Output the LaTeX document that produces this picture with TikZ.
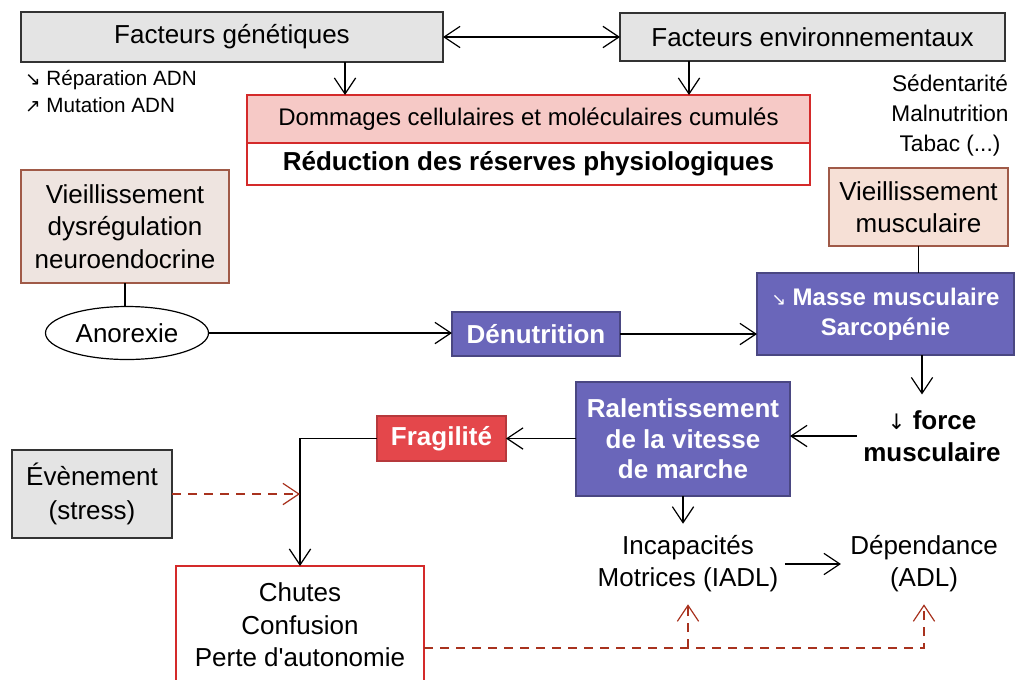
\documentclass[tikz,border=0pt]{standalone}
\usepackage{fontspec}
\setmainfont{Liberation Sans}
\newfontfamily\symf{DejaVu Sans}
\newfontfamily\plainf{Liberation Sans}
\usetikzlibrary{arrows.meta,shapes.geometric}
\definecolor{grayfill}{HTML}{E4E4E4}
\definecolor{pinkfill}{HTML}{F6C9C6}
\definecolor{peach}{HTML}{F6E0D6}
\definecolor{neurofill}{HTML}{EEE4E0}
\definecolor{purp}{HTML}{6A66BA}
\definecolor{fragred}{HTML}{E4474B}
\definecolor{boxred}{HTML}{D42A2A}
\definecolor{dashred}{HTML}{A8321E}
\definecolor{brownb}{HTML}{A05A48}
\begin{document}
\begin{tikzpicture}[x=0.75pt,y=-0.75pt,
  every node/.style={inner sep=0pt, outer sep=0pt},
  base/.style={draw, line width=0.9pt, align=center, font=\fontsize{19.5}{24.4}\selectfont},
  graybox/.style={base, fill=grayfill, draw=black!80},
  pinkbox/.style={base, fill=pinkfill, draw=boxred, font=\fontsize{18}{22}\selectfont},
  redline/.style={base, fill=white, draw=boxred, font=\bfseries\fontsize{19.5}{24}\selectfont},
  agebox/.style={base, draw=brownb},
  purpbox/.style={base, fill=purp, draw=purp!70!black, text=white, font=\bfseries\fontsize{19.5}{23}\selectfont},
  fragbox/.style={base, fill=fragred, draw=fragred!80!black, text=white, font=\bfseries\fontsize{19.5}{23}\selectfont},
  plain/.style={align=center, font=\fontsize{19.5}{24}\selectfont},
  tip/.tip={Straight Barb[length=12pt,width=16pt,line width=0.9pt]},
  arr/.style={-tip, line width=0.9pt},
  darr/.style={arr, dashed, dash pattern=on 7pt off 5pt, draw=dashred},
]
\useasboundingbox (0,0) rectangle (1016,679);
\fill[white] (0,0) rectangle (1016,679);

% top row
\node[graybox, minimum width=316.5pt, minimum height=37.5pt] (gen) at (232,37) {Facteurs génétiques};
\node[graybox, minimum width=288.75pt, minimum height=36pt] (env) at (812.5,37) {Facteurs environnementaux};
\node[align=left, anchor=west, font=\fontsize{15.5}{20.3}\selectfont] (adn) at (25,91.5) {{\symf\fontsize{14}{14}\selectfont ↘} Réparation ADN\\{\symf\fontsize{14}{14}\selectfont ↗} Mutation ADN};
\node[pinkbox, minimum width=422.25pt, minimum height=36pt] (dom) at (528.5,119) {Dommages cellulaires et moléculaires cumulés};
\node[redline, minimum width=422.25pt, minimum height=31.5pt] (red) at (528.5,164) {Réduction des réserves physiologiques};
\node[align=center, font=\fontsize{17}{22.5}\selectfont] (sed) at (950,115) {Sédentarité\\Malnutrition\\Tabac (...)};

% middle
\node[agebox, fill=neurofill, minimum width=156pt, minimum height=84.75pt] (neuro) at (125,226.5) {Vieillissement\\dysrégulation\\neuroendocrine};
\node[agebox, fill=peach, minimum width=134.25pt, minimum height=58.5pt] (muscv) at (918.5,207) {Vieillissement\\musculaire};
\node[ellipse, draw, line width=0.9pt, fill=white, minimum width=122.25pt, minimum height=39.75pt, font=\fontsize{19.5}{24}\selectfont] (anor) at (127,333) {Anorexie};
\node[purpbox, minimum width=126pt, minimum height=33pt] (denu) at (536,334) {Dénutrition};
\node[purpbox, font=\bfseries\fontsize{18}{22.5}\selectfont, minimum width=192.75pt, minimum height=61.5pt] (masse) at (885.5,314) {{\symf\mdseries\fontsize{13}{13}\selectfont ↘} Masse musculaire\\Sarcopénie};
\node[plain, font=\bfseries\fontsize{19.5}{24}\selectfont, inner ysep=12pt, inner xsep=5pt] (force) at (932,436) {{\symf\mdseries\fontsize{16}{16}\selectfont ↓} force\\musculaire};
\node[purpbox, minimum width=160.5pt, minimum height=85.5pt] (ral) at (683,439) {Ralentissement\\de la vitesse\\de marche};
\node[fragbox, minimum width=96.75pt, minimum height=33.75pt] (frag) at (441.5,438.5) {Fragilité};
\node[graybox, minimum width=120pt, minimum height=66pt, font=\fontsize{19.5}{25.5}\selectfont] (even) at (92,494) {Évènement\\(stress)};

% bottom
\node[base, draw=boxred, fill=white, minimum width=186pt, minimum height=88.5pt] (chutes) at (300,625) {Chutes\\Confusion\\Perte d{\plainf '}autonomie};
\node[plain, inner ysep=9pt, inner xsep=5pt] (incap) at (688,564) {Incapacités\\Motrices (IADL)};
\node[plain, inner ysep=9pt, inner xsep=7pt] (dep) at (924,564) {Dépendance\\(ADL)};
\coordinate (xA) at (345,0);
\coordinate (xB) at (689,0);
\coordinate (xF) at (922,0);
\coordinate (yD) at (0,648);

% connectors
\draw[arr, tip-tip] (gen.east) -- (gen.east -| env.west);
\draw[arr] (gen.south -| xA) -- (dom.north -| xA);
\draw[arr] (env.south -| xB) -- (dom.north -| xB);
\draw[line width=0.9pt] (neuro.south) -- (neuro.south |- anor.north);
\draw[line width=0.9pt] (muscv.south) -- (muscv.south |- masse.north);
\draw[arr] (anor.east) -- (anor.east -| denu.west);
\draw[arr] (denu.east) -- (denu.east -| masse.west);
\draw[arr] (masse.south -| xF) -- (force.north -| xF);
\draw[arr] (force.west) -- (force.west -| ral.east);
\draw[arr] (ral.west |- frag.east) -- (frag.east);
\draw[arr] (frag.west) -| (chutes.north);
\draw[darr] (even.east) -- (even.east -| chutes.north);
\draw[arr] (ral.south) -- (ral.south |- incap.north);
\draw[arr] (incap.east) -- (incap.east -| dep.west);
\draw[darr] (chutes.east |- yD) -| (dep.south);
\draw[darr] (incap.south |- yD) -- (incap.south);
\end{tikzpicture}
\end{document}
